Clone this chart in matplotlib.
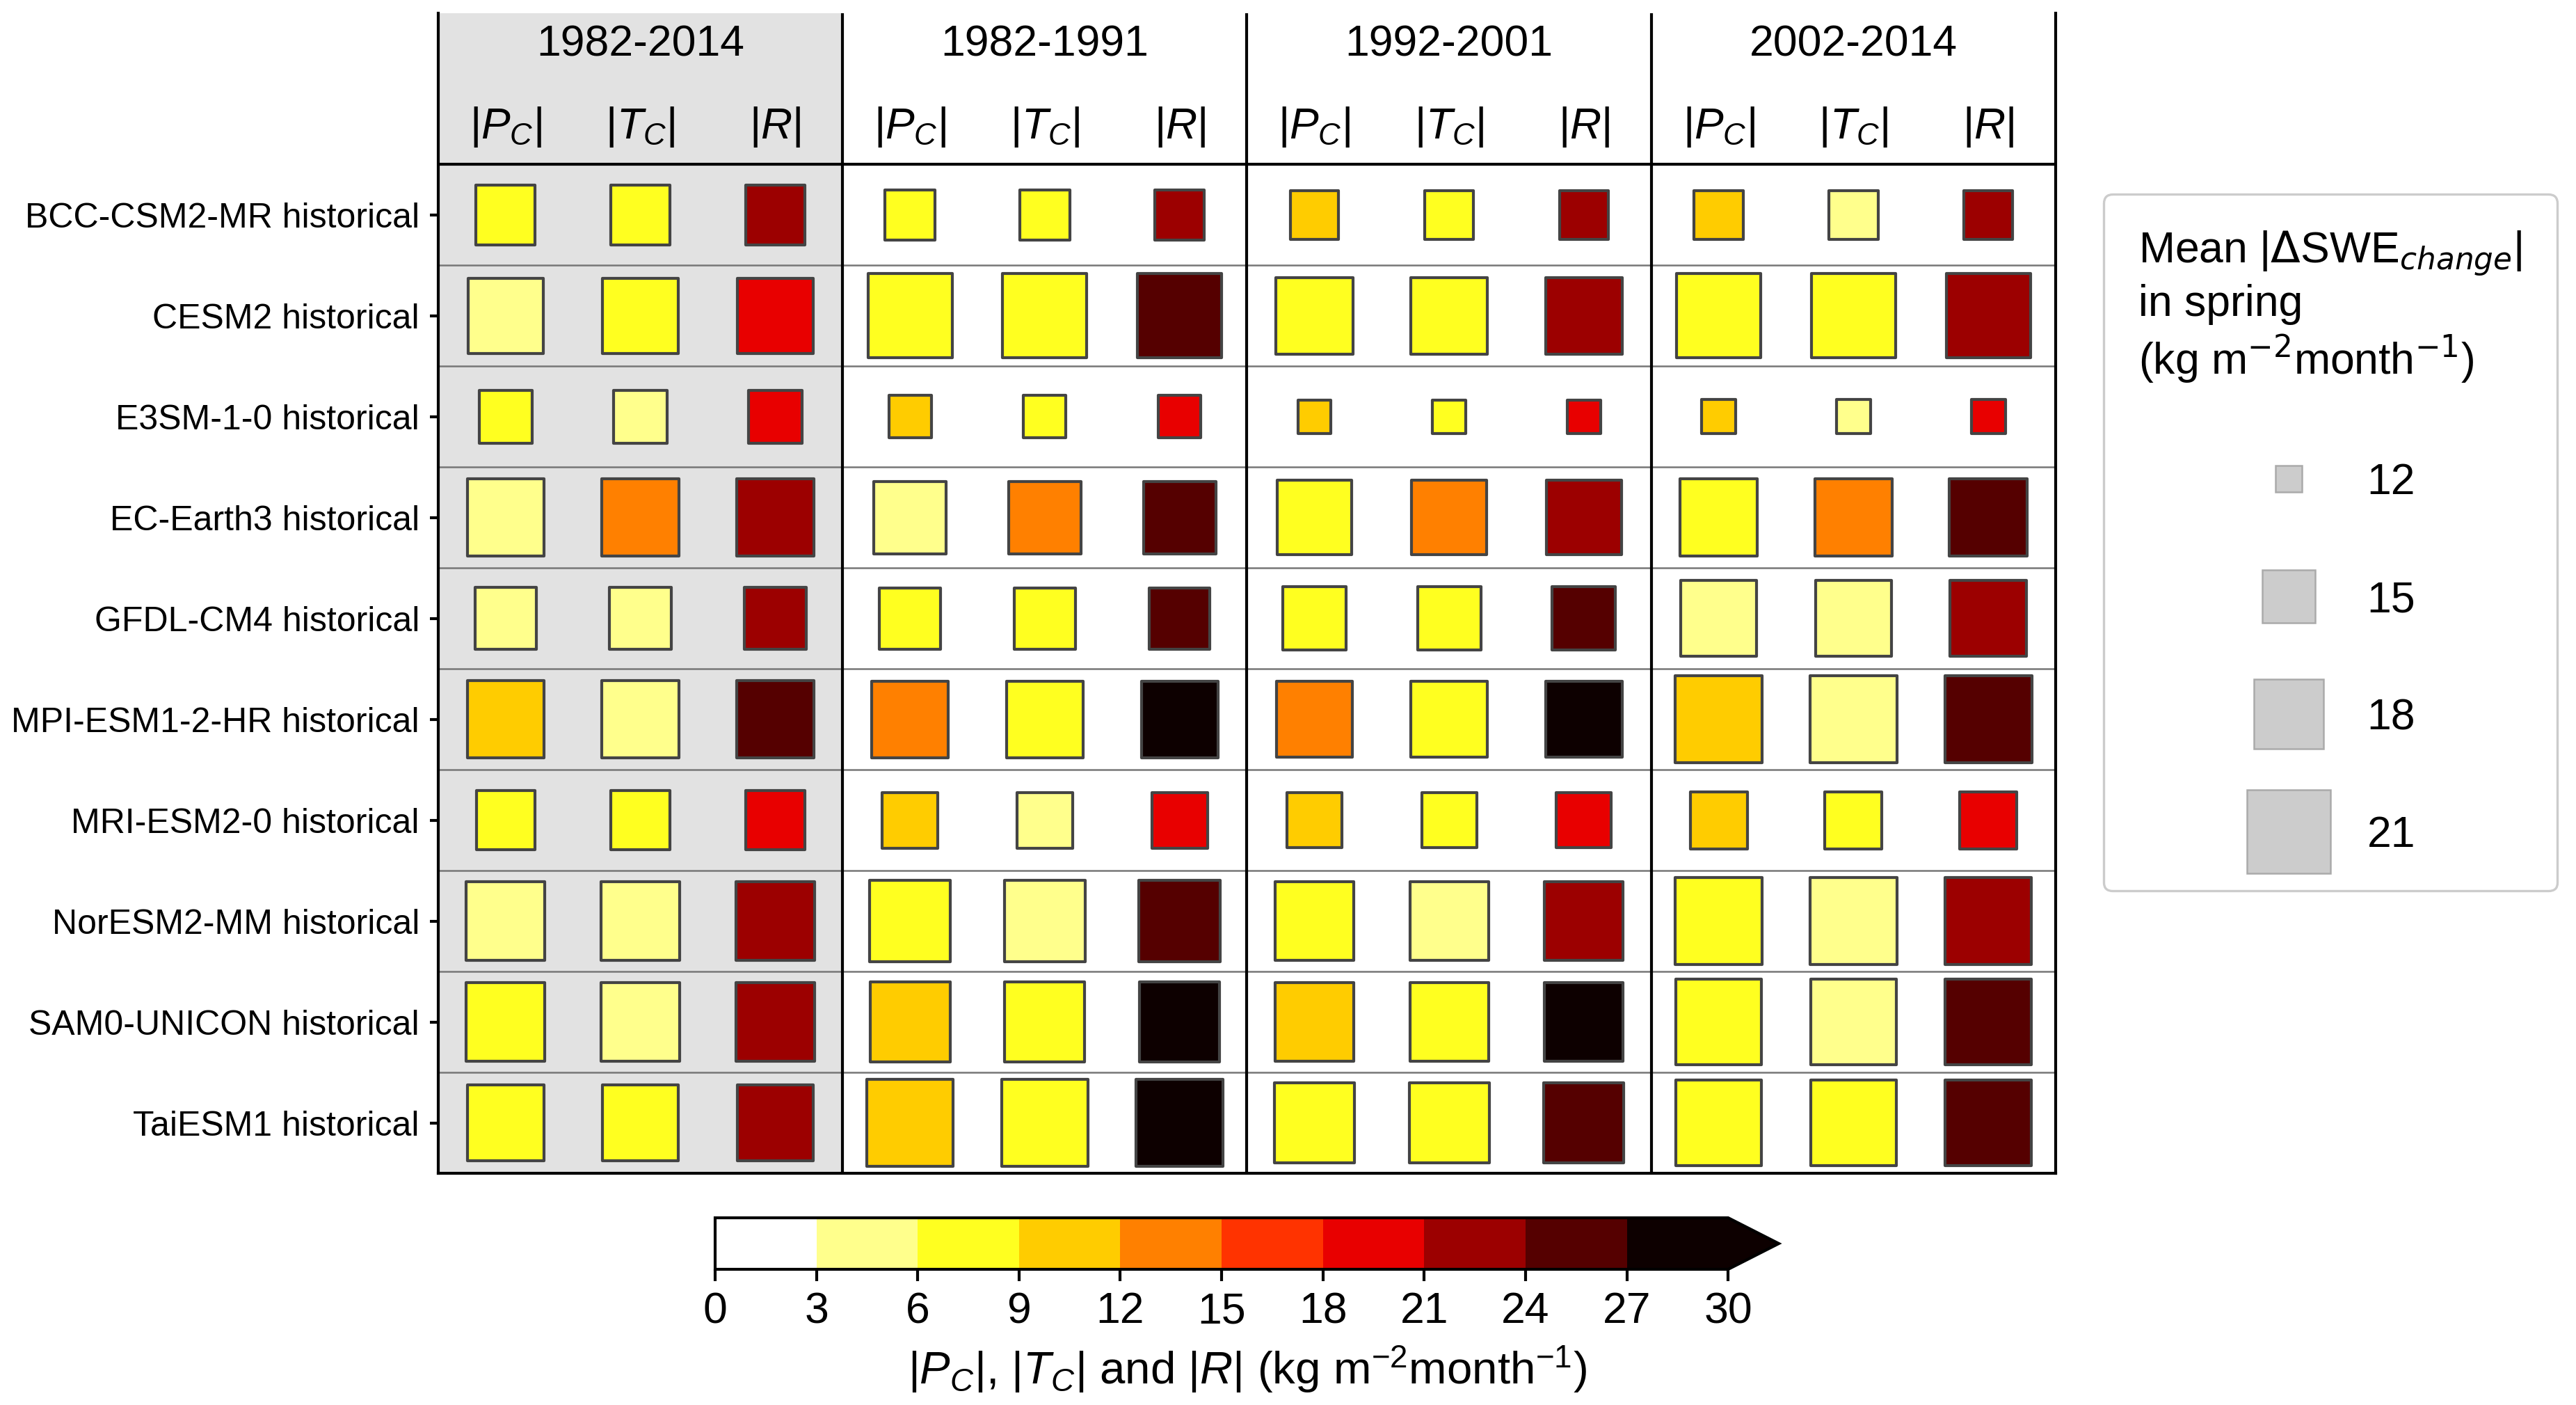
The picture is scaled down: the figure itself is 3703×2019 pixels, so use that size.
import numpy as np
import matplotlib
matplotlib.use('Agg')
import matplotlib.pyplot as plt
from matplotlib.colors import ListedColormap, BoundaryNorm
from matplotlib.cm import ScalarMappable
from matplotlib.lines import Line2D

plt.rcParams['font.family'] = ['Liberation Sans', 'DejaVu Sans']
plt.rcParams['mathtext.fontset'] = 'custom'
plt.rcParams['mathtext.rm'] = 'Liberation Sans'
plt.rcParams['mathtext.it'] = 'Liberation Sans:italic'
plt.rcParams['mathtext.bf'] = 'Liberation Sans:bold'

# ---------------- data ----------------
models = ['BCC-CSM2-MR historical', 'CESM2 historical', 'E3SM-1-0 historical',
          'EC-Earth3 historical', 'GFDL-CM4 historical', 'MPI-ESM1-2-HR historical',
          'MRI-ESM2-0 historical', 'NorESM2-MM historical', 'SAM0-UNICON historical',
          'TaiESM1 historical']
periods = ['1982-2014', '1982-1991', '1992-2001', '2002-2014']
variables = [r'$|P_C|$', r'$|T_C|$', r'$|R|$']

# mean |dSWE_change| in spring (square size), rows = models, cols = periods
swe = np.array([
    [16.1, 14.6, 14.4, 14.5],
    [19.3, 21.3, 19.6, 21.3],
    [15.1, 13.6, 12.6, 12.7],
    [19.6, 18.6, 19.1, 19.7],
    [16.5, 16.4, 16.8, 19.4],
    [19.6, 19.5, 19.4, 22.0],
    [16.0, 15.5, 15.4, 15.7],
    [20.0, 20.5, 20.0, 21.9],
    [20.0, 20.3, 20.0, 21.7],
    [19.4, 21.9, 20.3, 21.7],
])

# |P_C| (colour), rows = models, cols = periods
pc = np.array([
    [7.6, 7.4, 9.8, 9.7],
    [5.2, 8.2, 8.4, 8.3],
    [6.8, 9.6, 9.9, 9.4],
    [5.5, 5.4, 8.0, 7.5],
    [5.1, 7.9, 7.7, 5.7],
    [10.3, 12.8, 12.6, 10.7],
    [7.9, 10.2, 10.4, 10.0],
    [5.3, 7.3, 7.8, 8.2],
    [7.2, 10.6, 10.1, 8.0],
    [7.7, 10.9, 8.1, 8.5],
])

# |T_C|
tc = np.array([
    [7.1, 7.8, 7.6, 5.3],
    [7.4, 8.0, 8.2, 8.6],
    [4.9, 7.5, 7.2, 5.2],
    [13.2, 13.6, 13.4, 13.1],
    [5.4, 8.3, 7.9, 5.5],
    [5.6, 8.6, 8.0, 5.9],
    [7.0, 5.6, 7.4, 7.8],
    [5.7, 5.8, 5.5, 5.6],
    [5.8, 8.4, 8.3, 5.4],
    [7.3, 8.1, 8.5, 8.2],
])

# |R|
rr = np.array([
    [22.4, 21.9, 22.0, 21.8],
    [19.8, 25.8, 23.2, 22.8],
    [19.3, 19.1, 19.4, 19.0],
    [22.9, 25.3, 22.7, 25.1],
    [22.1, 24.9, 24.4, 22.3],
    [24.6, 29.1, 27.9, 25.6],
    [19.6, 20.1, 20.3, 19.9],
    [22.6, 25.5, 22.9, 23.0],
    [22.8, 28.7, 28.4, 24.8],
    [23.1, 29.6, 25.2, 25.4],
])

levels = [0, 3, 6, 9, 12, 15, 18, 21, 24, 27, 30]
legend_values = [12, 15, 18, 21]

# ---------------- style ----------------
bin_colors = ['#ffffff', '#ffff8c', '#ffff20', '#ffcc00', '#ff8000', '#ff3300',
              '#e80000', '#9c0000', '#550000', '#0d0000']
cmap = ListedColormap(bin_colors)
cmap.set_over('#0d0000')
norm = BoundaryNorm(levels, cmap.N)


def area(v):
    return 82.0 * (np.asarray(v, dtype=float) - 11.0)


fig = plt.figure(figsize=(3704 / 300, 2019 / 300), dpi=300)
ax = fig.add_axes([630 / 3704, 1 - 1686 / 2019, 2325 / 3704, 1667 / 2019])

ax.axvspan(-0.5, 2.5, color='#e2e2e2', zorder=0, lw=0)

values = [pc, tc, rr]
rows = np.arange(len(models))
for p in range(len(periods)):
    for v in range(len(variables)):
        ax.scatter(np.full(len(models), 3 * p + v), rows, s=area(swe[:, p]),
                   c=values[v][:, p], cmap=cmap, norm=norm, marker='s',
                   edgecolors='#444444', linewidths=1.0, zorder=3)

for i in range(len(models) - 1):
    ax.axhline(i + 0.5, color='#777777', lw=0.6, zorder=1)
ax.axhline(-0.5, color='black', lw=1.0, zorder=2)
for xb in [2.5, 5.5, 8.5]:
    ax.axvline(xb, color='black', lw=1.0, zorder=2)

for p, name in enumerate(periods):
    ax.text(3 * p + 1, -1.69, name, ha='center', va='center', fontsize=15)
    for v, lab in enumerate(variables):
        ax.text(3 * p + v, -0.87, lab, ha='center', va='center', fontsize=15)

ax.set_xlim(-0.5, 11.5)
ax.set_ylim(9.5, -2.0)
ax.set_xticks([])
ax.set_yticks(rows)
ax.set_yticklabels(models, fontsize=12)
ax.tick_params(axis='y', length=3, width=1)
ax.spines['top'].set_visible(False)
for s in ['left', 'right', 'bottom']:
    ax.spines[s].set_linewidth(1.0)

# colorbar
cax = fig.add_axes([1028 / 3704, 1 - 1824 / 2019, 1529 / 3704, 74 / 2019])
sm = ScalarMappable(norm=norm, cmap=cmap)
cb = fig.colorbar(sm, cax=cax, orientation='horizontal', extend='max', ticks=levels)
cb.outline.set_linewidth(1.0)
cb.ax.tick_params(labelsize=15, length=4, width=1)
cb.set_label(r'$|P_C|$, $|T_C|$ and $|R|$ (kg m$^{-2}$month$^{-1}$)', fontsize=15.7)
cb.ax.xaxis.label.set_x(0.525)

# size legend
handles = [Line2D([], [], marker='s', ls='', markersize=float(np.sqrt(area(v))),
                  markerfacecolor='#cccccc', markeredgecolor='#aaaaaa',
                  markeredgewidth=0.6) for v in legend_values]
leg = fig.legend(handles, [str(v) for v in legend_values], loc='upper left',
                 bbox_to_anchor=(3024.5 / 3704, 1 - 279.5 / 2019), borderaxespad=0.0,
                 title='Mean |$\\Delta$SWE$_{change}$|\nin spring\n(kg m$^{-2}$month$^{-1}$)',
                 fontsize=15, title_fontsize=15, labelspacing=1.76,
                 borderpad=0.8, handletextpad=0.8, handlelength=2.0,
                 frameon=True, fancybox=True, edgecolor='#cccccc', framealpha=1.0)
leg.get_title().set_multialignment('left')
leg.get_title().set_math_fontfamily('dejavusans')
leg.get_frame().set_linewidth(0.8)

fig.savefig('out.png', dpi=300)
